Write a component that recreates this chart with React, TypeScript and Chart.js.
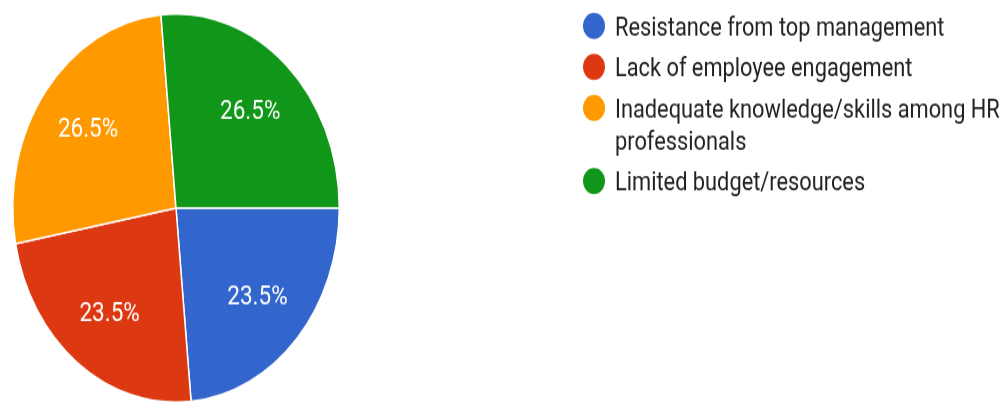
import React, { useEffect, useRef } from "react";
import { Chart, registerables } from "chart.js";

Chart.register(...registerables);

const categories: string[] = [
  "Resistance from top management",
  "Lack of employee engagement",
  "Inadequate knowledge/skills among HR professionals",
  "Limited budget/resources",
];
const responses: number[] = [8, 8, 9, 9];
const sliceColors: string[] = ["#3366CC", "#DC3912", "#FF9900", "#109618"];

const W = 1003;
const H = 345;
const SY = 1.189;
const FONT = "Roboto, Arial, sans-serif";

const pctLabels = {
  id: "pctLabels",
  afterDatasetsDraw(chart: any) {
    const ctx = chart.ctx;
    const ds = chart.data.datasets[0];
    const total = ds.data.reduce((a: number, b: number) => a + b, 0);
    const meta = chart.getDatasetMeta(0);
    ctx.save();
    ctx.fillStyle = "#ffffff";
    ctx.font = `22.5px ${FONT}`;
    ctx.textAlign = "center";
    ctx.textBaseline = "middle";
    meta.data.forEach((arc: any, i: number) => {
      const p = arc.getProps(["x", "y", "startAngle", "endAngle", "outerRadius"], true);
      const mid = (p.startAngle + p.endAngle) / 2;
      const d = p.outerRadius * 0.675;
      const txt = ((ds.data[i] / total) * 100).toFixed(1) + "%";
      ctx.fillText(txt, p.x + Math.cos(mid) * d, p.y + Math.sin(mid) * d + 1);
    });
    ctx.restore();
  },
};

const sideLegend = {
  id: "sideLegend",
  afterDraw(chart: any) {
    const ctx = chart.ctx;
    const labels: string[] = chart.data.labels;
    const colors: string[] = chart.data.datasets[0].backgroundColor;
    const textX = 615;
    const dotX = 594;
    const maxW = W - textX;
    const lineH = 27;
    const gap = 7.5;
    let y = 29.5;
    ctx.save();
    ctx.font = `21.8px ${FONT}`;
    ctx.textAlign = "left";
    ctx.textBaseline = "alphabetic";
    labels.forEach((lab, i) => {
      const words = lab.split(" ");
      const lines: string[] = [];
      let cur = "";
      words.forEach((w) => {
        const t = cur ? cur + " " + w : w;
        if (ctx.measureText(t).width > maxW && cur) {
          lines.push(cur);
          cur = w;
        } else cur = t;
      });
      if (cur) lines.push(cur);
      ctx.fillStyle = colors[i];
      ctx.beginPath();
      ctx.arc(dotX, y - 7.8, 11, 0, Math.PI * 2);
      ctx.fill();
      ctx.fillStyle = "#212121";
      lines.forEach((ln, j) => {
        ctx.fillText(ln, textX, y + j * lineH);
      });
      y += lines.length * lineH + gap;
    });
    ctx.restore();
  },
};

export default function App() {
  const ref = useRef<HTMLCanvasElement | null>(null);
  useEffect(() => {
    if (!ref.current) return;
    const chart = new Chart(ref.current, {
      type: "pie",
      data: {
        labels: categories,
        datasets: [
          {
            data: responses,
            backgroundColor: sliceColors,
            borderColor: "#ffffff",
            borderWidth: 1.5,
          },
        ],
      },
      options: {
        animation: false,
        responsive: true,
        maintainAspectRatio: false,
        rotation: 90,
        layout: { padding: { left: 12, right: W - 340, top: 11, bottom: H - 339 } },
        plugins: {
          legend: { display: false },
          tooltip: { enabled: false },
          title: { display: false },
        },
      },
      plugins: [pctLabels, sideLegend],
    });
    return () => chart.destroy();
  }, []);
  return (
    <div
      style={{
        position: "fixed",
        left: 0,
        top: 0,
        width: W,
        height: 402,
        overflow: "hidden",
        background: "#ffffff",
      }}
    >
      <div
        style={{
          position: "relative",
          width: W,
          height: H,
          transform: `scaleY(${SY})`,
          transformOrigin: "0 0",
        }}
      >
        <canvas ref={ref} />
      </div>
    </div>
  );
}
